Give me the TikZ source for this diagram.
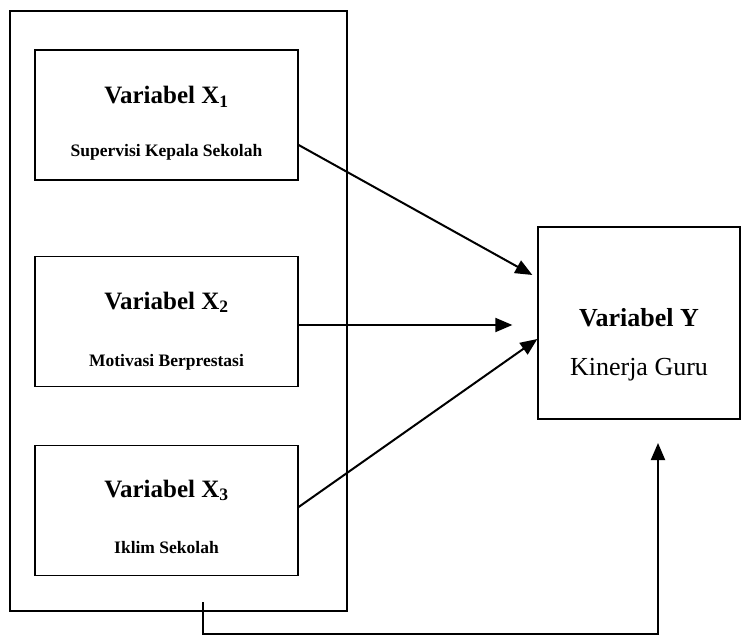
\documentclass[tikz,border=0pt]{standalone}
\usepackage{fontspec}
\setmainfont{Liberation Serif}
\usetikzlibrary{arrows.meta,calc}

\begin{document}
\begin{tikzpicture}[x=1pt, y=-1pt]
    \tikzstyle{frame} = [rectangle, draw, line width=1.4pt, minimum width=337pt, minimum height=600pt, inner sep=0pt]
    \tikzstyle{varbox} = [rectangle, draw, line width=1.3pt, minimum width=263pt, minimum height=130pt, inner sep=0pt]
    \tikzstyle{ybox} = [rectangle, draw, line width=1.3pt, minimum width=202pt, minimum height=192pt, inner sep=0pt]
    \tikzstyle{title} = [anchor=base, font=\fontsize{25}{30}\selectfont\bfseries, inner sep=0pt]
    \tikzstyle{subtitle} = [anchor=base, font=\fontsize{17.5}{21}\selectfont\bfseries, inner sep=0pt]
    \tikzstyle{ytext} = [anchor=base, font=\fontsize{26}{31}\selectfont, inner sep=0pt]
    \tikzstyle{arrow} = [line width=2pt, -{Triangle[length=17pt,width=14pt]}]

    \useasboundingbox (0,0) rectangle (741,636);

    % Independent variables
    \node [frame] (frame) at (178.5,311) {};
    \node [varbox] (x1) at (166.5,115) {};
    \node [varbox] (x2) at (166.5,321.5) {};
    \node [varbox] (x3) at (166.5,510.5) {};

    \node [title] (x1title) at (166.5,104) {Variabel X\textsubscript{1}};
    \node [subtitle] (x1sub) at (166.5,157) {Supervisi Kepala Sekolah};
    \node [title] (x2title) at (166.5,309) {Variabel X\textsubscript{2}};
    \node [subtitle] (x2sub) at (166.5,366) {Motivasi Berprestasi};
    \node [title] (x3title) at (166.5,497) {Variabel X\textsubscript{3}};
    \node [subtitle] (x3sub) at (166.5,553) {Iklim Sekolah};

    % Dependent variable
    \node [ybox] (y) at (639,323) {};
    \node [ytext, font=\fontsize{26}{31}\selectfont\bfseries] (ytitle) at (639,326) {Variabel Y};
    \node [ytext] (ysub) at (639,375) {Kinerja Guru};

    % Arrows
    \draw [arrow] ([yshift=-30pt]x1.east) -- ([xshift=-5pt,yshift=48pt]y.west);
    \draw [arrow] ([yshift=-3.5pt]x2.east) -- ([xshift=-25pt,yshift=-2pt]y.west);
    \draw [arrow] ([yshift=3.5pt]x3.east) -- ([yshift=-16pt]y.west);

    \coordinate (fbstart) at (203,602);
    \coordinate (fbend) at (658,443);
    \draw [arrow] (fbstart) -- ++(0,32) -| (fbend);
\end{tikzpicture}
\end{document}
